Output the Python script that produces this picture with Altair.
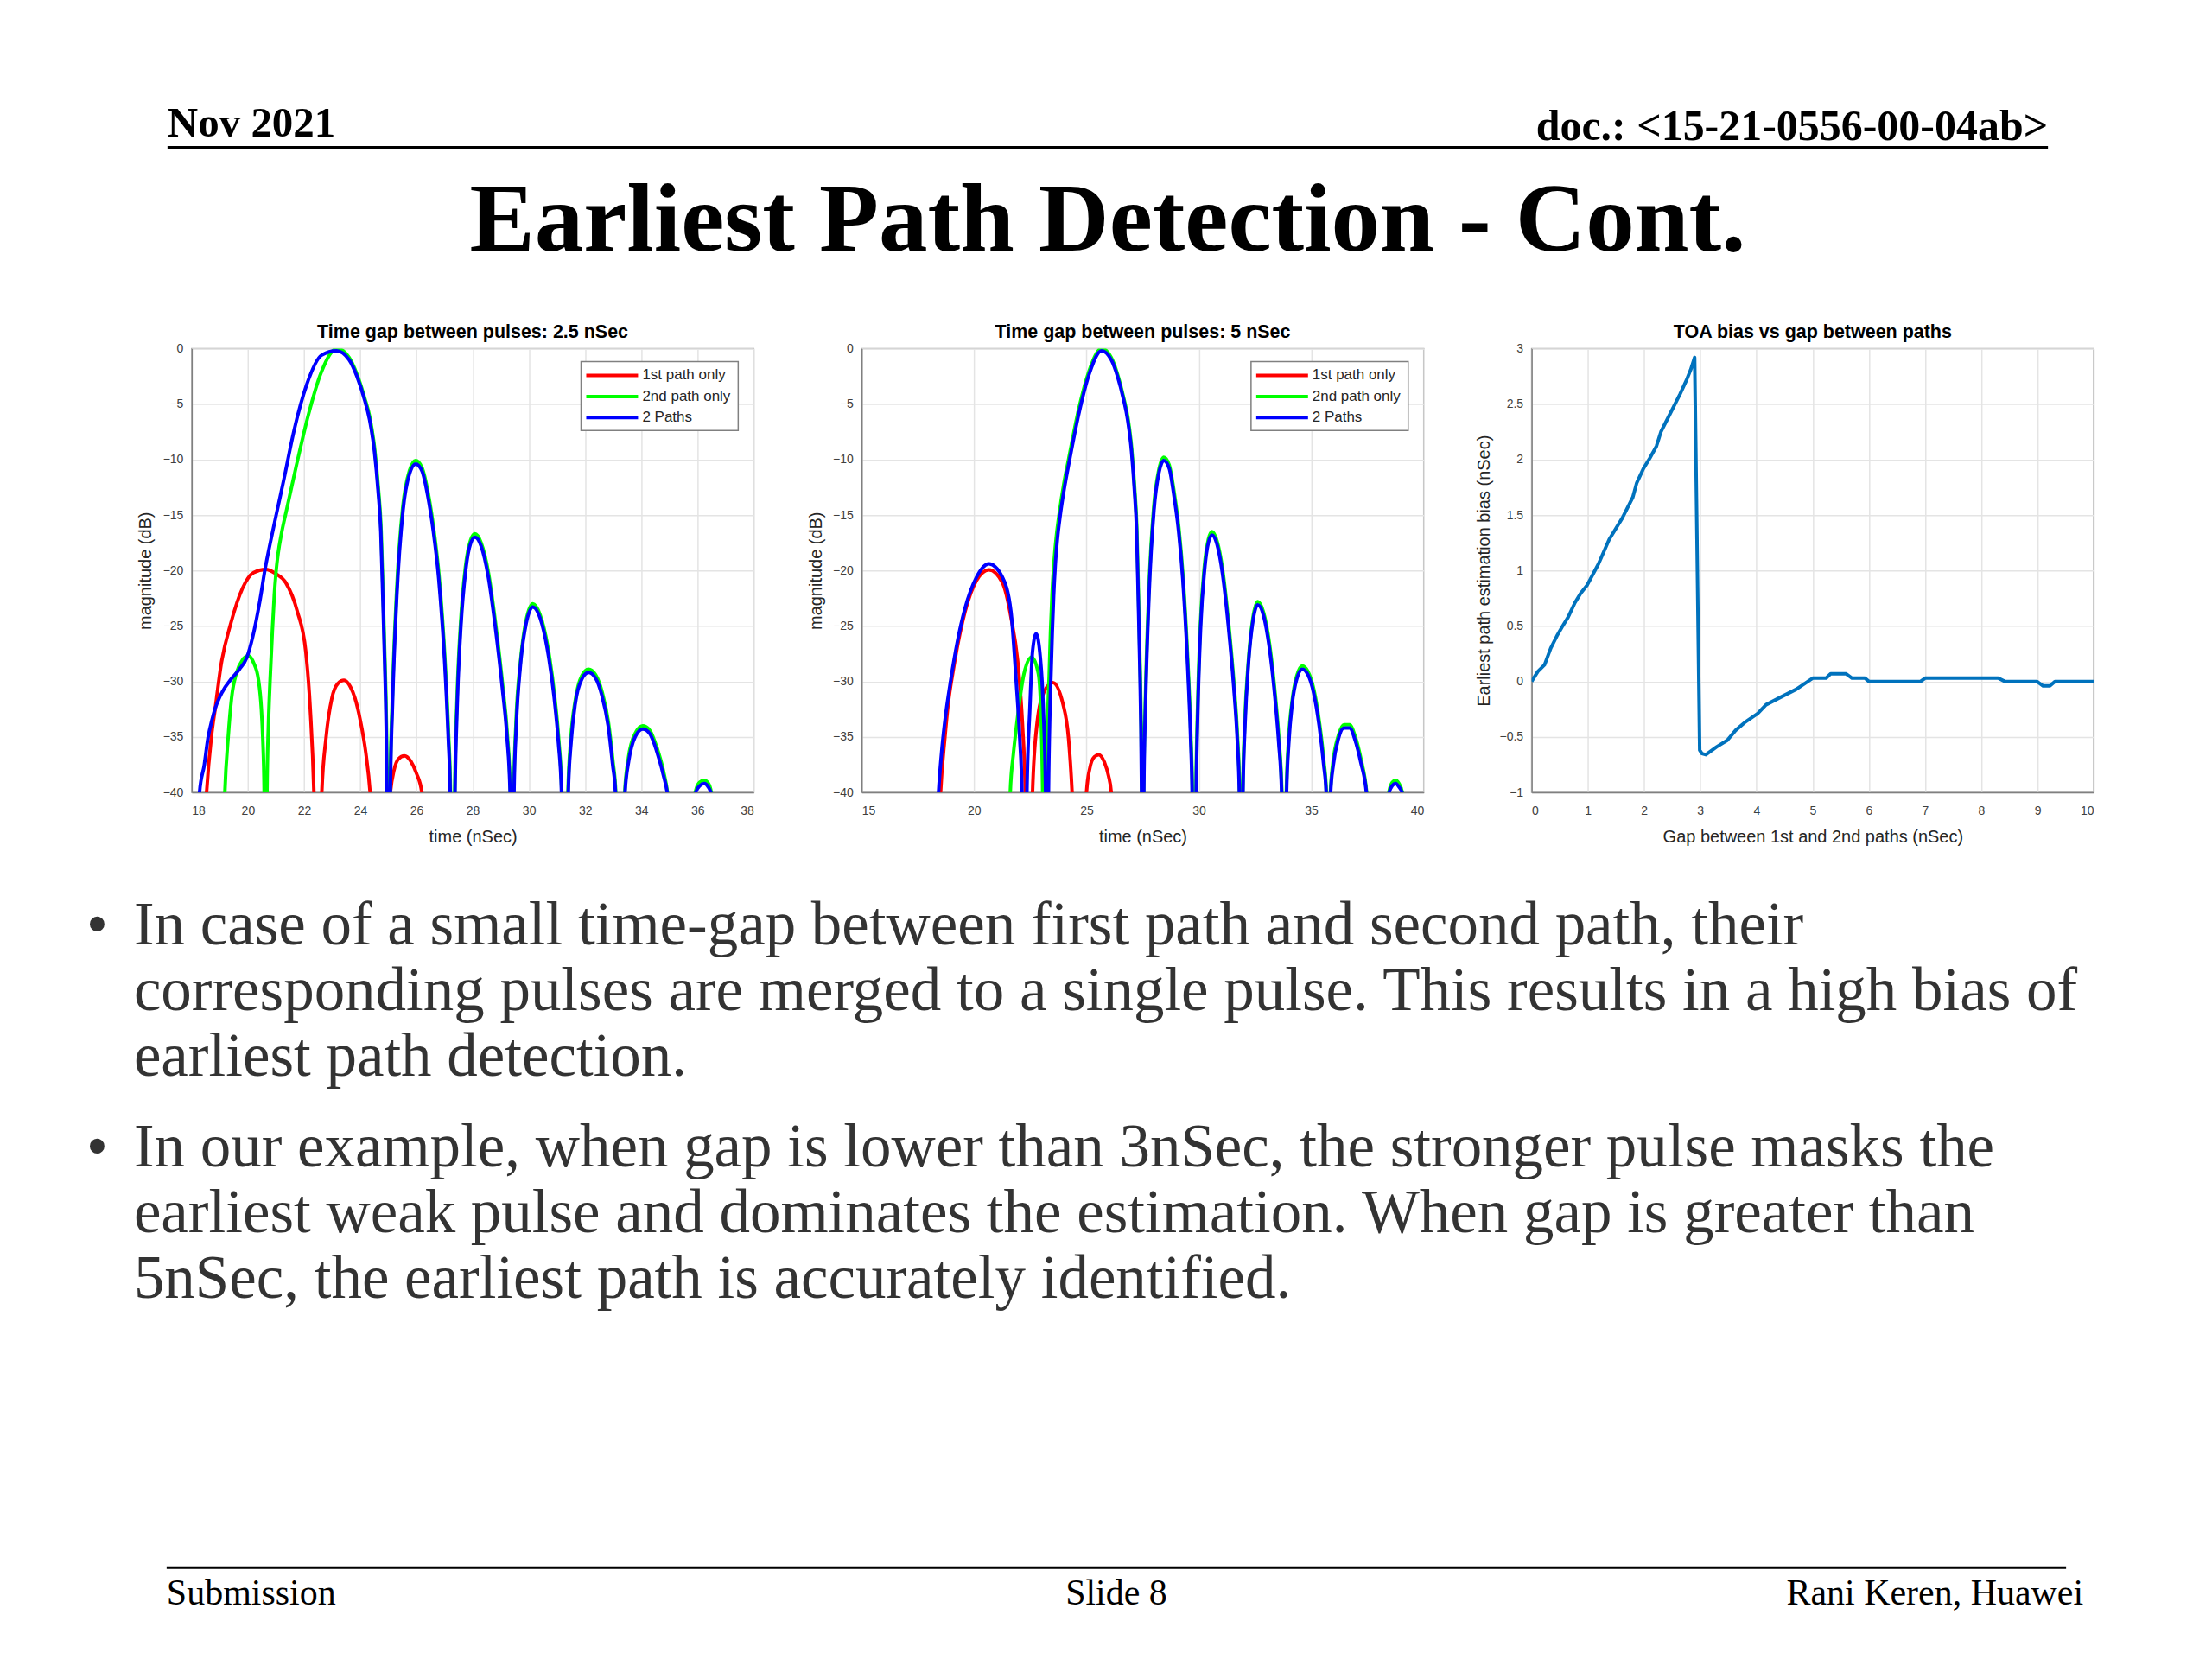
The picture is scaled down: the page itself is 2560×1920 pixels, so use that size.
import altair as alt
import pandas as pd

# ---------------- data ----------------
SERIES = ["1st path only", "2nd path only", "2 Paths"]
SERIES_COLORS = ["#FF0000", "#00FF00", "#0000FF"]

P1_TITLE = "Time gap between pulses: 2.5 nSec"
P1_XTICKS = [18, 20, 22, 24, 26, 28, 30, 32, 34, 36, 38]
P1_RED = [(18.2, -60), (18.53, -40), (18.7, -35), (18.84, -32.4), (19.04, -28.6), (19.4, -24.7),
          (19.81, -21.6), (20.2, -20.2), (20.63, -19.9), (21.0, -20.3), (21.35, -21.1), (21.76, -23.7),
          (22.06, -27.3), (22.22, -32.5), (22.35, -40), (22.5, -60), (22.63, -40), (22.78, -35.1),
          (22.99, -31.5), (23.2, -30.2), (23.42, -29.9), (23.65, -30.5), (23.81, -31.5), (24.0, -33.5),
          (24.2, -36.5), (24.35, -40), (24.7, -60), (25.07, -40), (25.2, -38), (25.35, -37),
          (25.57, -36.7), (25.8, -37.2), (26.0, -38.3), (26.19, -40), (26.4, -60)]
P1_GREEN = [(19.0, -60), (19.18, -40), (19.3, -35), (19.42, -31.5), (19.6, -29.2), (19.8, -28.1),
            (20.02, -27.7), (20.2, -28.3), (20.38, -29.9), (20.48, -32.5), (20.53, -35.1), (20.58, -40),
            (20.63, -60), (20.68, -40), (20.73, -34), (20.79, -29.9), (20.87, -25.5), (20.94, -22.2),
            (21.0, -20.2), (21.08, -18.4), (21.2, -16.6), (21.38, -14.5), (21.72, -10.6), (22.17, -5.8),
            (22.6, -2.2), (23.17, 0.0), (23.6, -0.8), (23.88, -2.3), (24.15, -4.4), (24.34, -6.2),
            (24.51, -9.0), (24.64, -12.5), (24.74, -16.3), (24.81, -22.1), (24.88, -28.3), (24.93, -33.8),
            (24.96, -40), (25.01, -60), (25.06, -40), (25.14, -31.6), (25.29, -22.0), (25.51, -14.3),
            (25.75, -11.0), (25.97, -10.1), (26.19, -10.7), (26.42, -13.1), (26.61, -16.2), (26.8, -20.4),
            (27.02, -28.3), (27.14, -34.7), (27.21, -40), (27.29, -60), (27.36, -40), (27.44, -31.7),
            (27.57, -24.7), (27.74, -19.7), (27.92, -17.3), (28.08, -16.7), (28.3, -17.5), (28.56, -20.2),
            (28.81, -24.7), (29.06, -30.2), (29.23, -34.7), (29.34, -40), (29.41, -60), (29.46, -40),
            (29.54, -33.7), (29.7, -28.2), (29.9, -24.5), (30.14, -23.0), (30.4, -24.0), (30.66, -26.7),
            (30.91, -31.2), (31.06, -35.2), (31.17, -40), (31.28, -60), (31.39, -40), (31.49, -35.2),
            (31.65, -31.7), (31.88, -29.5), (32.12, -28.9), (32.37, -29.4), (32.61, -31.0), (32.83, -33.7),
            (32.99, -37.2), (33.09, -40), (33.25, -60), (33.41, -40), (33.54, -36.9), (33.78, -34.7),
            (34.05, -34.0), (34.3, -34.4), (34.56, -36.0), (34.79, -38.1), (34.93, -40), (35.4, -60),
            (35.92, -40), (36.07, -39.1), (36.24, -38.9), (36.39, -39.2), (36.49, -40), (36.6, -60)]
P1_BLUE = [(18.0, -60), (18.28, -40), (18.45, -37.5), (18.58, -35.1), (18.72, -33.5), (18.84, -32.4),
           (19.1, -30.9), (19.4, -29.8), (19.7, -28.9), (19.97, -27.8), (20.17, -26.0), (20.43, -22.7),
           (20.61, -19.9), (20.84, -17.0), (21.05, -14.5), (21.28, -11.8), (21.65, -7.3), (22.1, -3.2),
           (22.62, -0.6), (23.15, -0.2), (23.6, -1.0), (23.88, -2.5), (24.15, -4.6), (24.33, -6.4),
           (24.5, -9.2), (24.63, -12.7), (24.73, -16.5), (24.8, -22.3), (24.87, -28.5), (24.92, -34),
           (24.95, -40), (25.01, -60), (25.07, -40), (25.15, -31.8), (25.3, -22.3), (25.52, -14.6),
           (25.75, -11.3), (25.97, -10.4), (26.19, -11.0), (26.41, -13.4), (26.6, -16.5), (26.79, -20.7),
           (27.01, -28.6), (27.13, -35), (27.2, -40), (27.29, -60), (27.37, -40), (27.45, -32),
           (27.58, -25), (27.75, -20), (27.92, -17.6), (28.08, -17.0), (28.3, -17.8), (28.55, -20.5),
           (28.8, -25), (29.05, -30.5), (29.22, -35), (29.33, -40), (29.41, -60), (29.47, -40),
           (29.55, -34), (29.7, -28.5), (29.9, -24.8), (30.14, -23.3), (30.4, -24.3), (30.65, -27),
           (30.9, -31.5), (31.05, -35.5), (31.16, -40), (31.28, -60), (31.4, -40), (31.5, -35.5),
           (31.65, -32), (31.88, -29.8), (32.12, -29.2), (32.37, -29.7), (32.6, -31.3), (32.82, -34),
           (32.98, -37.5), (33.08, -40), (33.25, -60), (33.42, -40), (33.55, -37.2), (33.78, -35),
           (34.05, -34.3), (34.3, -34.7), (34.55, -36.3), (34.78, -38.4), (34.92, -40), (35.4, -60),
           (35.94, -40), (36.08, -39.4), (36.24, -39.2), (36.38, -39.5), (36.47, -40), (36.6, -60)]

P2_TITLE = "Time gap between pulses: 5 nSec"
P2_XTICKS = [15, 20, 25, 30, 35, 40]
P2_RED = [(18.2, -60), (18.51, -40), (18.7, -35.1), (18.85, -32), (19.08, -28.9), (19.6, -23.7),
          (20.11, -20.9), (20.66, -19.95), (21.26, -21.1), (21.64, -24.2), (21.96, -28.6), (22.15, -33.8),
          (22.28, -40), (22.44, -60), (22.6, -40), (22.8, -33.8), (23.1, -31), (23.5, -30.1),
          (23.95, -32.0), (24.2, -35.1), (24.36, -40), (24.7, -60), (25.0, -40), (25.15, -37.8),
          (25.35, -36.8), (25.55, -36.6), (25.8, -37.3), (25.98, -38.5), (26.1, -40), (26.3, -60)]
P2_GREEN = [(21.4, -60), (21.61, -40), (21.75, -36.5), (21.9, -33.8), (22.22, -29.3), (22.56, -27.8),
            (22.86, -29.3), (22.99, -33.8), (23.05, -40), (23.13, -60), (23.22, -40), (23.28, -33),
            (23.34, -29.5), (23.4, -25.5), (23.47, -22.1), (23.55, -19.4), (23.65, -17.1), (23.8, -14.7),
            (23.99, -12.2), (24.21, -9.9), (24.66, -5.4), (25.1, -2.1), (25.67, 0.0), (26.1, -0.8),
            (26.38, -2.3), (26.65, -4.4), (26.84, -6.2), (27.01, -9.0), (27.14, -12.5), (27.24, -16.3),
            (27.31, -22.1), (27.38, -28.3), (27.43, -33.8), (27.46, -40), (27.5, -60), (27.54, -40),
            (27.62, -31.6), (27.77, -22.0), (27.99, -14.3), (28.22, -10.9), (28.44, -9.8), (28.68, -10.5),
            (28.91, -13.1), (29.11, -16.2), (29.29, -20.4), (29.51, -28.3), (29.64, -34.7), (29.71, -40),
            (29.8, -60), (29.87, -40), (29.95, -31.7), (30.07, -24.7), (30.24, -19.7), (30.42, -17.2),
            (30.58, -16.5), (30.8, -17.3), (31.06, -20.0), (31.31, -24.5), (31.56, -30.2), (31.71, -34.7),
            (31.81, -40), (31.88, -60), (31.95, -40), (32.04, -33.7), (32.2, -28.2), (32.4, -24.3),
            (32.62, -22.8), (32.88, -23.8), (33.14, -26.6), (33.39, -31.1), (33.56, -35.2), (33.69, -40),
            (33.8, -60), (33.89, -40), (33.99, -35.2), (34.15, -31.7), (34.35, -29.5), (34.6, -28.6),
            (34.85, -29.1), (35.11, -30.7), (35.36, -33.7), (35.56, -37.2), (35.67, -40), (35.77, -60),
            (35.85, -40), (35.97, -37.2), (36.2, -34.9), (36.45, -33.9), (36.7, -33.9), (36.96, -35.0),
            (37.21, -37.0), (37.46, -40), (37.95, -60), (38.45, -40), (38.6, -39.1), (38.75, -38.9),
            (38.9, -39.2), (39.05, -40), (39.2, -60)]
P2_BLUE = [(18.1, -60), (18.42, -40), (18.55, -36.5), (18.7, -33.6), (18.96, -29.9), (19.25, -26.5),
           (19.6, -23.4), (20.11, -20.6), (20.66, -19.4), (21.26, -20.6), (21.64, -23.7), (21.87, -29.9),
           (22.03, -35.1), (22.13, -40), (22.24, -60), (22.35, -40), (22.48, -32.5), (22.6, -27.3),
           (22.76, -25.7), (22.92, -27.3), (23.08, -32.5), (23.18, -40), (23.24, -60), (23.31, -40),
           (23.37, -33), (23.42, -29.5), (23.48, -25.5), (23.54, -22.3), (23.61, -19.6), (23.7, -17.3),
           (23.84, -14.9), (24.03, -12.4), (24.24, -10.1), (24.69, -5.6), (25.12, -2.3), (25.67, -0.2),
           (26.1, -1.0), (26.38, -2.5), (26.65, -4.6), (26.83, -6.4), (27.0, -9.2), (27.13, -12.7),
           (27.23, -16.5), (27.3, -22.3), (27.37, -28.5), (27.42, -34), (27.45, -40), (27.5, -60),
           (27.55, -40), (27.63, -31.8), (27.78, -22.3), (28.0, -14.6), (28.22, -11.2), (28.44, -10.1),
           (28.68, -10.8), (28.9, -13.4), (29.1, -16.5), (29.28, -20.7), (29.5, -28.6), (29.63, -35),
           (29.7, -40), (29.8, -60), (29.88, -40), (29.96, -32), (30.08, -25), (30.25, -20),
           (30.42, -17.5), (30.58, -16.8), (30.8, -17.6), (31.05, -20.3), (31.3, -24.8), (31.55, -30.5),
           (31.7, -35), (31.8, -40), (31.88, -60), (31.96, -40), (32.05, -34), (32.2, -28.5),
           (32.4, -24.6), (32.62, -23.1), (32.88, -24.1), (33.13, -26.9), (33.38, -31.4), (33.55, -35.5),
           (33.68, -40), (33.8, -60), (33.9, -40), (34.0, -35.5), (34.15, -32), (34.35, -29.8),
           (34.6, -28.9), (34.85, -29.4), (35.1, -31.0), (35.35, -34), (35.55, -37.5), (35.66, -40),
           (35.77, -60), (35.86, -40), (35.98, -37.5), (36.2, -35.2), (36.45, -34.2), (36.7, -34.2),
           (36.95, -35.3), (37.2, -37.3), (37.45, -40), (37.95, -60), (38.47, -40), (38.6, -39.4),
           (38.75, -39.2), (38.9, -39.5), (39.03, -40), (39.2, -60)]

MAG_TICKS = [-40, -35, -30, -25, -20, -15, -10, -5, 0]

P3_TITLE = "TOA bias vs gap between paths"
P3_XTICKS = [0, 1, 2, 3, 4, 5, 6, 7, 8, 9, 10]
P3_YTICKS = [-1, -0.5, 0, 0.5, 1, 1.5, 2, 2.5, 3]
P3_GAP = [0.0, 0.11, 0.23, 0.34, 0.46, 0.54, 0.65, 0.77, 0.88, 0.99, 1.19, 1.38, 1.61, 1.8, 1.87,
          1.99, 2.1, 2.22, 2.3, 2.45, 2.64, 2.75, 2.83, 2.9, 2.99, 3.03, 3.1, 3.29, 3.48, 3.63, 3.79,
          4.02, 4.17, 4.4, 4.71, 5.0, 5.24, 5.32, 5.59, 5.7, 5.93, 6.0, 6.92, 7.0, 8.3, 8.42, 8.99,
          9.1, 9.22, 9.31, 10.0]
P3_BIAS = [0.0, 0.09, 0.15, 0.30, 0.42, 0.49, 0.58, 0.71, 0.80, 0.87, 1.06, 1.28, 1.47, 1.66, 1.79,
           1.92, 2.01, 2.12, 2.25, 2.40, 2.59, 2.71, 2.81, 2.92, -0.62, -0.65, -0.66, -0.59, -0.53, -0.44,
           -0.37, -0.29, -0.21, -0.15, -0.07, 0.03, 0.03, 0.07, 0.07, 0.03, 0.03, 0.0, 0.0, 0.03, 0.03,
           0.0, 0.0, -0.04, -0.04, 0.0, 0.0]

HEADER_LEFT = "Nov 2021"
HEADER_RIGHT = "doc.: <15-21-0556-00-04ab>"
SLIDE_TITLE = "Earliest Path Detection - Cont."
BULLET_1 = ["In case of a small time-gap between first path and second path, their",
            "corresponding pulses are merged to a single pulse. This results in a high bias of",
            "earliest path detection."]
BULLET_2 = ["In our example, when gap is lower than 3nSec, the stronger pulse masks the",
            "earliest weak pulse and dominates the estimation. When gap is greater than",
            "5nSec, the earliest path is accurately identified."]
FOOTER = ["Submission", "Slide 8", "Rani Keren, Huawei"]

# ---------------- layout ----------------
W, H = 651, 514
SANS = "Liberation Sans"
SERIF = "Liberation Serif"
ONE = pd.DataFrame({"k": [0]})
color_scale = alt.Scale(domain=SERIES, range=SERIES_COLORS)


def x_axis(values, title, fmt=None):
    kw = dict(values=values, title=title, grid=True, ticks=False, labelPadding=14,
              labelFontSize=14, labelColor="#404040", titleFontSize=20, titleColor="#262626",
              titleFontWeight="normal", titleY=52, titleBaseline="middle", titleX=W / 2,
              titleAlign="center", domainColor="#808080", domainWidth=1.5,
              gridColor="#e4e4e4", gridWidth=1.5, labelFont=SANS, titleFont=SANS)
    if fmt:
        kw["format"] = fmt
    return alt.Axis(**kw)


def y_axis(values, title, title_x, fmt=None):
    kw = dict(values=values, title=title, grid=True, ticks=False, labelPadding=10,
              labelFontSize=14, labelColor="#404040", titleFontSize=20, titleColor="#262626",
              titleFontWeight="normal", titleX=title_x, titleY=H / 2, titleAngle=270,
              titleBaseline="middle", titleAlign="center", domainColor="#808080",
              domainWidth=1.5, gridColor="#e4e4e4", gridWidth=1.5, labelFont=SANS, titleFont=SANS)
    if fmt:
        kw["format"] = fmt
    return alt.Axis(**kw)


def txt(s, x, y, size, weight="normal", align="left", color="#000000", font=SERIF,
        baseline="alphabetic"):
    return alt.Chart(ONE).mark_text(text=s, fontSize=size, fontWeight=weight, align=align,
                                    baseline=baseline, font=font, color=color).encode(
        x=alt.value(x), y=alt.value(y))


def panel_title(s):
    return txt(s, W / 2, -18, 21.5, "bold", align="center", font=SANS, baseline="middle")


def hrule(x1, x2, y, w=3):
    return alt.Chart(ONE).mark_rule(color="#000000", strokeWidth=w).encode(
        x=alt.value(x1), x2=alt.value(x2), y=alt.value(y))


def legend_layers():
    layers = [alt.Chart(ONE).mark_rect(fill="white", stroke="#808080", strokeWidth=1.5).encode(
        x=alt.value(451), x2=alt.value(633), y=alt.value(15), y2=alt.value(95))]
    rows = [31, 55.5, 80]
    for name, yy in zip(SERIES, rows):
        d = pd.DataFrame({"series": [name]})
        layers.append(alt.Chart(d).mark_rule(strokeWidth=4).encode(
            x=alt.value(457), x2=alt.value(517), y=alt.value(yy),
            color=alt.Color("series:N", scale=color_scale, legend=None)))
        layers.append(alt.Chart(d).mark_text(align="left", baseline="middle", fontSize=17,
                                             font=SANS, color="#262626").encode(
            x=alt.value(522), y=alt.value(yy), text="series:N"))
    return layers


def pulse_panel(title, red, green, blue, xdomain, xticks, extra=None):
    x_enc = alt.X("t:Q", scale=alt.Scale(domain=xdomain, nice=False),
                  axis=x_axis(xticks, "time (nSec)"))
    y_enc = alt.Y("mag:Q", scale=alt.Scale(domain=[-40, 0], nice=False),
                  axis=y_axis(MAG_TICKS, "magnitude (dB)", -53))
    layers = list(extra or [])
    for name, pts in zip(SERIES, (red, green, blue)):
        df = pd.DataFrame(pts, columns=["t", "mag"])
        df["series"] = name
        layers.append(alt.Chart(df).mark_line(clip=True, strokeWidth=4, interpolate="monotone",
                                              strokeJoin="round").encode(
            x=x_enc, y=y_enc, color=alt.Color("series:N", scale=color_scale, legend=None)))
    layers += legend_layers()
    layers.append(panel_title(title))
    return alt.layer(*layers).properties(width=W, height=H)


# slide texts, positioned relative to the first panel's plot area
slide = [alt.Chart(ONE).mark_rect(opacity=0).encode(
    x=alt.value(-213), x2=alt.value(2331), y=alt.value(-394), y2=alt.value(1510))]
slide.append(txt(HEADER_LEFT, -28, -246, 49, "bold"))
slide.append(txt(HEADER_RIGHT, 2150, -242, 50, "bold", align="right"))
slide.append(hrule(-28, 2150, -233))
slide.append(txt(SLIDE_TITLE, 1061, -114, 113, "bold", align="center"))
for lines, y0 in ((BULLET_1, 690), (BULLET_2, 947)):
    slide.append(txt("\u2022", -122, y0, 71, color="#333333"))
    for i, line in enumerate(lines):
        slide.append(txt(line, -67, y0 + 76 * i, 71, color="#333333"))
slide.append(hrule(-29, 2171, 1412))
slide.append(txt(FOOTER[0], -29, 1455, 42))
slide.append(txt(FOOTER[1], 1071, 1455, 42, align="center"))
slide.append(txt(FOOTER[2], 2191, 1455, 42, align="right"))

c1 = pulse_panel(P1_TITLE, P1_RED, P1_GREEN, P1_BLUE, [18, 38], P1_XTICKS, extra=slide)
c2 = pulse_panel(P2_TITLE, P2_RED, P2_GREEN, P2_BLUE, [15, 40], P2_XTICKS)

df3 = pd.DataFrame({"gap": P3_GAP, "bias": P3_BIAS})
line3 = alt.Chart(df3).mark_line(color="#0072BD", strokeWidth=4, strokeJoin="round", clip=True).encode(
    x=alt.X("gap:Q", scale=alt.Scale(domain=[0, 10], nice=False),
            axis=x_axis(P3_XTICKS, "Gap between 1st and 2nd paths (nSec)")),
    y=alt.Y("bias:Q", scale=alt.Scale(domain=[-1, 3], nice=False),
            axis=y_axis(P3_YTICKS, "Earliest path estimation bias (nSec)", -55, fmt=".1~f")),
)
c3 = alt.layer(line3, panel_title(P3_TITLE)).properties(width=W, height=H)

chart = alt.hconcat(c1, c2, c3, spacing=125, bounds="flush").properties(
    padding=0, background="white"
).configure_view(stroke="#a6a6a6", strokeWidth=1.5)

chart.save("out.html", embed_options={"renderer": "svg", "actions": False})
